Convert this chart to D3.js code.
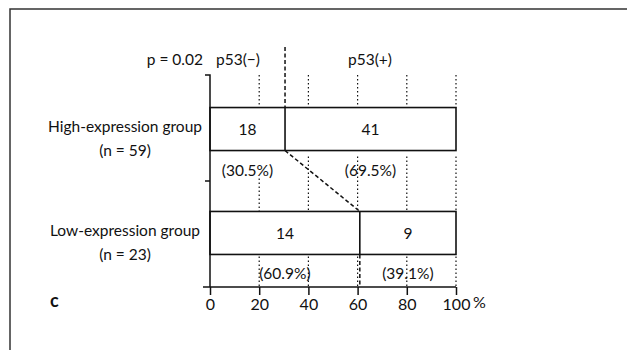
<!DOCTYPE html>
<html>
<head>
<meta charset="utf-8">
<script src="https://cdn.jsdelivr.net/npm/d3@7"></script>
<style>
  body { margin: 0; background: #fff; }
  text { font-family: Lato, "Open Sans", sans-serif; font-size: 15.5px; fill: #111; }
</style>
</head>
<body>
<div id="chart"></div>
<script>
let groups = ["High-expression group", "Low-expression group"];
let groupN = [59, 23];
let negCounts = [18, 14];
let posCounts = [41, 9];
let negPct = [30.5, 60.9];
let posPct = [69.5, 39.1];
let xTicks = [0, 20, 40, 60, 80, 100];

let width = 627, height = 350;
let barH = 43;

let svg = d3.select("#chart").append("svg")
  .attr("width", width)
  .attr("height", height);

// frame
svg.append("path")
  .attr("d", "M10,350V9H627")
  .attr("fill", "none")
  .attr("stroke", "#333")
  .attr("stroke-width", 1.5);

let x = d3.scaleLinear().domain([0, 100]).range([210, 456]);
let y = d3.scalePoint().domain(groups).range([75, 287]).padding(0.52);

let yTop = 75, yBottom = 287;

let lineG = svg.append("g").attr("stroke", "#111").attr("fill", "none");

// dotted guides above the first bar
xTicks.slice(1).forEach(function(t) {
  lineG.append("line")
    .attr("x1", x(t)).attr("x2", x(t))
    .attr("y1", yTop).attr("y2", y(groups[0]) - barH / 2)
    .attr("stroke-width", 1.2)
    .attr("stroke-dasharray", "1.5,2.5");
});

// dotted guides between bars
xTicks.slice(1).forEach(function(t) {
  lineG.append("line")
    .attr("x1", x(t)).attr("x2", x(t))
    .attr("y1", y(groups[0]) + barH / 2 + (t === 20 ? 28 : 6)).attr("y2", y(groups[1]) - barH / 2)
    .attr("stroke-width", 1.2)
    .attr("stroke-dasharray", "1.5,2.5");
});

// dotted guides below second bar
xTicks.slice(1).forEach(function(t) {
  lineG.append("line")
    .attr("x1", x(t)).attr("x2", x(t))
    .attr("y1", y(groups[1]) + barH / 2 + 2).attr("y2", yBottom)
    .attr("stroke-width", 1.2)
    .attr("stroke-dasharray", "1.5,2.5");
});

// dashed markers at the split points
lineG.append("line")
  .attr("x1", x(negPct[0])).attr("x2", x(negPct[0]))
  .attr("y1", 47).attr("y2", y(groups[0]) - barH / 2)
  .attr("stroke-width", 1.5)
  .attr("stroke-dasharray", "4,2.5");

lineG.append("line")
  .attr("x1", x(negPct[0])).attr("x2", x(negPct[1]))
  .attr("y1", y(groups[0]) + barH / 2).attr("y2", y(groups[1]) - barH / 2)
  .attr("stroke-width", 1.5)
  .attr("stroke-dasharray", "4,2.5");

lineG.append("line")
  .attr("x1", x(negPct[1])).attr("x2", x(negPct[1]))
  .attr("y1", y(groups[1]) + barH / 2).attr("y2", yBottom)
  .attr("stroke-width", 1.5)
  .attr("stroke-dasharray", "4,2.5");

// bars
groups.forEach(function(g, i) {
  let cy = y(g);
  lineG.append("rect")
    .attr("x", x(0)).attr("y", cy - barH / 2)
    .attr("width", x(100) - x(0)).attr("height", barH)
    .attr("fill", "#fff")
    .attr("stroke-width", 1.6);
  lineG.append("line")
    .attr("x1", x(negPct[i])).attr("x2", x(negPct[i]))
    .attr("y1", cy - barH / 2).attr("y2", cy + barH / 2)
    .attr("stroke-width", 1.6);

  svg.append("text").attr("x", (x(0) + x(negPct[i])) / 2).attr("y", cy + 6)
    .attr("text-anchor", "middle").text(negCounts[i]);
  svg.append("text").attr("x", (x(negPct[i]) + x(100)) / 2).attr("y", cy + 6)
    .attr("text-anchor", "middle").text(posCounts[i]);

  svg.append("text").attr("x", (x(0) + x(negPct[i])) / 2).attr("y", cy + barH / 2 + 25)
    .attr("text-anchor", "middle").text("(" + negPct[i].toFixed(1) + "%)");
  svg.append("text").attr("x", (x(negPct[i]) + x(100)) / 2).attr("y", cy + barH / 2 + 25)
    .attr("text-anchor", "middle").text("(" + posPct[i].toFixed(1) + "%)");

  svg.append("text").attr("x", 125).attr("y", cy + 3)
    .attr("text-anchor", "middle").text(g);
  svg.append("text").attr("x", 125).attr("y", cy + 27)
    .attr("text-anchor", "middle").text("(n = " + groupN[i] + ")");
});

// y axis with bracket ticks
lineG.append("path")
  .attr("d", "M205," + yTop + "H" + x(0) + "V" + yBottom)
  .attr("stroke-width", 1.5);
lineG.append("line")
  .attr("x1", 205).attr("x2", x(0))
  .attr("y1", (y(groups[0]) + y(groups[1])) / 2).attr("y2", (y(groups[0]) + y(groups[1])) / 2)
  .attr("stroke-width", 1.5);

// x axis
let xAxis = svg.append("g")
  .attr("transform", "translate(0," + yBottom + ")")
  .call(d3.axisBottom(x).tickValues(xTicks).tickSize(8).tickPadding(4)
    .tickFormat(function(d) { return d; }));
xAxis.select(".domain").attr("d", "M203,0H" + x(100)).attr("stroke", "#111").attr("stroke-width", 1.5);
xAxis.selectAll(".tick line").attr("stroke", "#111").attr("stroke-width", 1.5);
xAxis.selectAll(".tick text")
  .style("font-family", "Lato, 'Open Sans', sans-serif")
  .style("font-size", "16px")
  .attr("fill", "#111");
svg.append("text").attr("x", x(100) + 17).attr("y", 308).style("font-size", "16px").text("%");

// header texts
svg.append("text").attr("x", 203).attr("y", 65).attr("text-anchor", "end").text("p = 0.02");
svg.append("text").attr("x", 238).attr("y", 65).attr("text-anchor", "middle").text("p53(\u2212)");
svg.append("text").attr("x", 370).attr("y", 65).attr("text-anchor", "middle").text("p53(+)");

// panel letter
svg.append("text").attr("x", 50).attr("y", 307).style("font-weight", "bold").style("font-size", "18px").text("c");
</script>
</body>
</html>
